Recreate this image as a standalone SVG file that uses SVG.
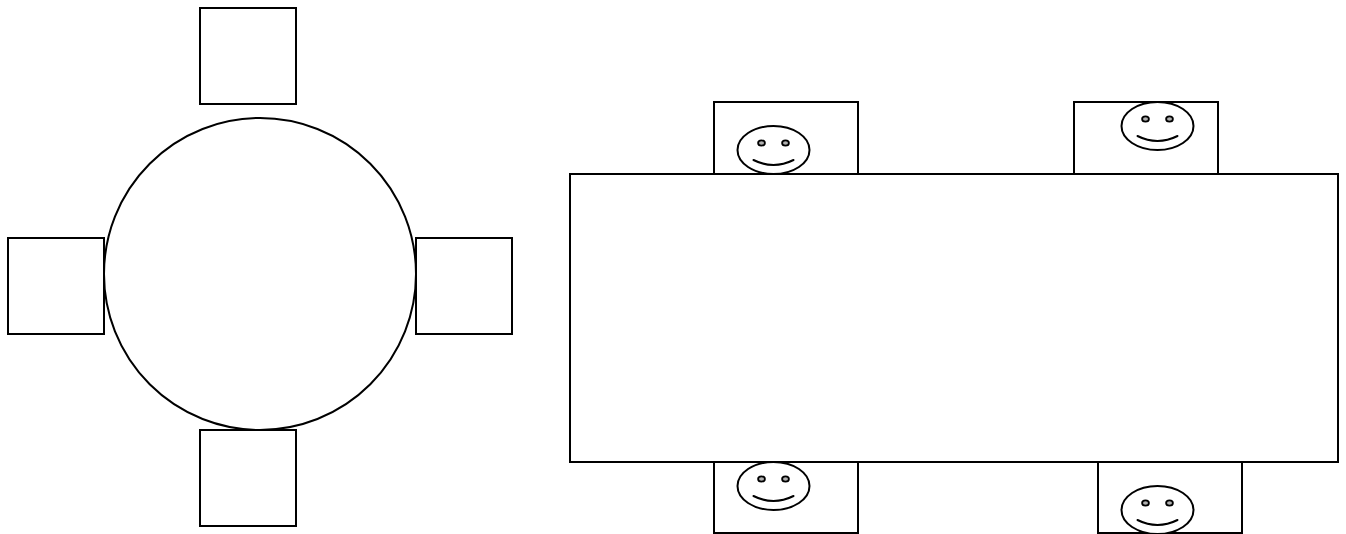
<svg xmlns="http://www.w3.org/2000/svg" width="1346" height="534" viewBox="0 0 1346 534">
<style>
.s{fill:none;stroke:#000;stroke-width:2}
.e{fill:#fff;stroke:#000;stroke-width:2}
.y{fill:#b0b0b0;stroke:#000;stroke-width:1.8}
.th{fill:none;stroke:#000;stroke-width:2;stroke-linecap:round}
</style>
<defs>
<g id="face">
<ellipse class="e" cx="0" cy="0" rx="36" ry="24"/>
<ellipse class="y" cx="-12" cy="-7" rx="3.4" ry="2.6"/>
<ellipse class="y" cx="12" cy="-7" rx="3.4" ry="2.6"/>
<path class="th" d="M-20 10Q0 20 20 10"/>
</g>
</defs>
<rect width="1346" height="534" fill="#fff"/>
<g id="round-table">
<rect id="chair-top" class="s" x="200" y="8" width="96" height="96"/>
<rect id="chair-left" class="s" x="8" y="238" width="96" height="96"/>
<rect id="chair-right" class="s" x="416" y="238" width="96" height="96"/>
<rect id="chair-bottom" class="s" x="200" y="430" width="96" height="96"/>
<circle id="table-round" class="s" cx="260" cy="274" r="156"/>
</g>
<g id="seat-1"><rect class="s" x="714" y="102" width="144" height="72"/><use href="#face" x="773.5" y="150"/></g>
<g id="seat-2"><rect class="s" x="1074" y="102" width="144" height="72"/><use href="#face" x="1157.5" y="126"/></g>
<g id="seat-3"><rect class="s" x="714" y="462" width="144" height="71"/><use href="#face" x="773.5" y="486"/></g>
<g id="seat-4"><rect class="s" x="1098" y="462" width="144" height="71"/><use href="#face" x="1157.5" y="510"/></g>
<rect id="table-long" class="s" x="570" y="174" width="768" height="288"/>
</svg>
